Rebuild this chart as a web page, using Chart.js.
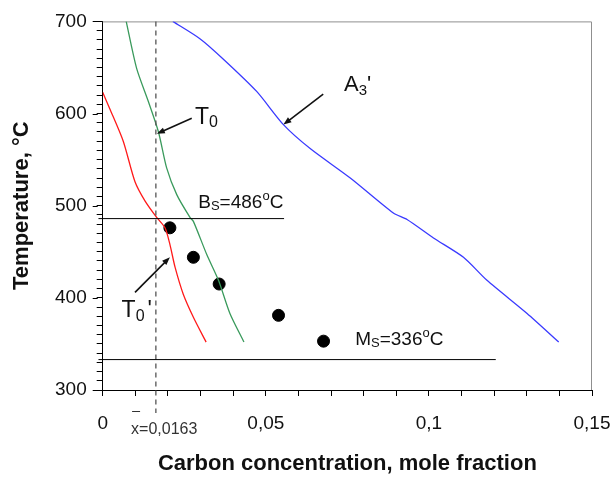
<!DOCTYPE html>
<html>
<head>
<meta charset="utf-8">
<script src="https://cdn.jsdelivr.net/npm/chart.js@4/dist/chart.umd.min.js"></script>
<style>
  html, body { margin: 0; padding: 0; background: #fff; }
</style>
</head>
<body>
<canvas id="c" width="615" height="477"></canvas>
<script>
// T0 curve (green)
const t0X = [0.0072, 0.0104, 0.0140, 0.0171, 0.0196, 0.0227, 0.0268, 0.0278, 0.0319, 0.0355, 0.0390, 0.0433];
const t0T = [700, 649, 613, 580, 541, 512, 487, 483, 447, 419, 383, 352];

// T0' curve (red)
const t0pX = [0, 0.0022, 0.0063, 0.0099, 0.0130, 0.0166, 0.0191, 0.0206, 0.0222, 0.0247, 0.0278, 0.0317];
const t0pT = [623, 605, 570, 526, 505, 487, 476, 458, 433, 404, 379, 352];

// A3' curve (blue)
const a3X = [0.0215, 0.0299, 0.0370, 0.0472, 0.0554, 0.0636, 0.0759, 0.0891, 0.0933, 0.1014, 0.1106, 0.1178, 0.1301, 0.1398];
const a3T = [700, 681, 659, 624, 588, 562, 530, 492, 485, 465, 444, 419, 383, 352];

// measured points
const expX = [0.0206, 0.0278, 0.0357, 0.0539, 0.0677];
const expT = [476, 444, 415, 381, 353];

// Bs / Ms lines and x = 0.0163 marker
const bsT = 486;
const bsLineX = [-0.0013, 0.0556];
const msT = 333;
const msLineX = [-0.0013, 0.1205];
const xMark = 0.0163;
const xMarkT = [700, 275];

// axes
const xMajor = [0, 0.05, 0.1, 0.15];
const xMajorLabels = ['0', '0,05', '0,1', '0,15'];
const yMajor = [300, 400, 500, 600, 700];
const yMajorLabels = ['300', '400', '500', '600', '700'];

const pts = (xs, ys) => xs.map((x, i) => ({ x, y: ys[i] }));
const flat = (xs, y) => xs.map(x => ({ x, y }));

const xMinor = [];
for (let i = 0; i <= 15; i++) xMinor.push(i / 100);
const yMinor = [];
for (let v = 300; v <= 700; v += 10) yMinor.push(v);

function xLabel(v) {
  const i = xMajor.findIndex(m => Math.abs(m - v) < 1e-9);
  return i < 0 ? '' : xMajorLabels[i];
}
function yLabel(v) {
  const i = yMajor.indexOf(Math.round(v));
  return i < 0 ? '' : yMajorLabels[i];
}

const FONT = '"Liberation Sans", Arial, sans-serif';

// text with sub/superscripts
function drawRuns(ctx, x, y, runs) {
  ctx.save();
  ctx.fillStyle = '#111';
  ctx.textBaseline = 'alphabetic';
  ctx.textAlign = 'left';
  for (const r of runs) {
    ctx.font = (r.bold ? 'bold ' : '') + r.s + 'px ' + FONT;
    ctx.fillText(r.t, x, y + (r.dy || 0));
    x += ctx.measureText(r.t).width + (r.gap || 0);
  }
  ctx.restore();
}

function arrow(ctx, x1, y1, x2, y2) {
  const a = Math.atan2(y2 - y1, x2 - x1);
  ctx.save();
  ctx.strokeStyle = '#111';
  ctx.fillStyle = '#111';
  ctx.lineWidth = 1.6;
  ctx.beginPath();
  ctx.moveTo(x1, y1);
  ctx.lineTo(x2 - 5 * Math.cos(a), y2 - 5 * Math.sin(a));
  ctx.stroke();
  ctx.beginPath();
  ctx.moveTo(x2, y2);
  ctx.lineTo(x2 - 8 * Math.cos(a) + 3 * Math.sin(a), y2 - 8 * Math.sin(a) - 3 * Math.cos(a));
  ctx.lineTo(x2 - 8 * Math.cos(a) - 3 * Math.sin(a), y2 - 8 * Math.sin(a) + 3 * Math.cos(a));
  ctx.closePath();
  ctx.fill();
  ctx.restore();
}

const decor = {
  id: 'decor',
  beforeDatasetsDraw(chart) {
    const { ctx, chartArea: a } = chart;
    ctx.save();
    ctx.strokeStyle = '#8f8f8f';
    ctx.lineWidth = 1;
    ctx.beginPath();
    ctx.moveTo(a.left, a.top + 0.5);
    ctx.lineTo(a.right - 0.5, a.top + 0.5);
    ctx.lineTo(a.right - 0.5, a.bottom);
    ctx.stroke();
    // longer major ticks on y axis
    const y = chart.scales.y;
    ctx.strokeStyle = '#000';
    ctx.beginPath();
    yMajor.forEach(v => {
      const py = Math.round(y.getPixelForValue(v)) + 0.5;
      ctx.moveTo(a.left - 10, py);
      ctx.lineTo(a.left - 5, py);
    });
    ctx.stroke();
    ctx.restore();
  },
  afterDatasetsDraw(chart) {
    const { ctx } = chart;
    const X = v => chart.scales.x.getPixelForValue(v);
    const Y = v => chart.scales.y.getPixelForValue(v);

    arrow(ctx, X(0.0273), Y(595), X(0.0166), Y(578));
    arrow(ctx, X(0.0676), Y(621), X(0.0554), Y(588));
    arrow(ctx, X(0.0099), Y(406), X(0.0206), Y(444));

    drawRuns(ctx, X(0.0283), Y(589), [{ t: 'T', s: 23 }, { t: '0', s: 16, dy: 3 }]);
    drawRuns(ctx, X(0.0740), Y(625), [{ t: 'A', s: 22 }, { t: '3', s: 15, dy: 4 }, { t: "'", s: 22 }]);
    drawRuns(ctx, X(0.0058), Y(379), [{ t: 'T', s: 23 }, { t: '0', s: 16, dy: 4, gap: 3 }, { t: "'", s: 23 }]);
    drawRuns(ctx, X(0.0293), Y(497.6), [
      { t: 'B', s: 19 }, { t: 'S', s: 13, dy: 2 }, { t: '=486', s: 19 },
      { t: 'o', s: 13, dy: -8 }, { t: 'C', s: 19 }
    ]);
    drawRuns(ctx, X(0.0774), Y(348.5), [
      { t: 'M', s: 19 }, { t: 'S', s: 13, dy: 2 }, { t: '=336', s: 19 },
      { t: 'o', s: 13, dy: -8 }, { t: 'C', s: 19 }
    ]);

    // x-bar label under the axis
    ctx.save();
    ctx.fillStyle = '#333';
    ctx.font = '16px ' + FONT;
    const lx = X(0.0087), ly = 434;
    ctx.fillText('x=0,0163', lx, ly);
    ctx.strokeStyle = '#333';
    ctx.lineWidth = 1;
    ctx.beginPath();
    ctx.moveTo(lx + 1, 411.5);
    ctx.lineTo(lx + 9, 411.5);
    ctx.stroke();
    ctx.restore();
  }
};

new Chart(document.getElementById('c'), {
  type: 'scatter',
  data: {
    datasets: [
      { data: flat(bsLineX, bsT), showLine: true, borderColor: '#000', borderWidth: 1, pointRadius: 0, clip: false },
      { data: flat(msLineX, msT), showLine: true, borderColor: '#000', borderWidth: 1, pointRadius: 0, clip: false },
      { data: xMarkT.map(t => ({ x: xMark, y: t })), showLine: true, borderColor: '#555', borderWidth: 1.3,
        borderDash: [5, 4], pointRadius: 0, clip: false },
      { data: pts(t0pX, t0pT), showLine: true, borderColor: '#ff1a1a', borderWidth: 1.3, pointRadius: 0, tension: 0.25 },
      { data: pts(t0X, t0T), showLine: true, borderColor: '#3a9a5c', borderWidth: 1.3, pointRadius: 0, tension: 0.25 },
      { data: pts(a3X, a3T), showLine: true, borderColor: '#3a3aff', borderWidth: 1.3, pointRadius: 0, tension: 0.25 },
      { data: pts(expX, expT), showLine: false, pointRadius: 6, pointBackgroundColor: '#000', pointBorderColor: '#000' }
    ]
  },
  options: {
    responsive: false,
    animation: false,
    layout: { padding: { left: 0, top: 18.5, right: 23, bottom: 0 } },
    plugins: { legend: { display: false }, tooltip: { enabled: false } },
    scales: {
      x: {
        type: 'linear', min: 0, max: 0.15,
        afterBuildTicks: s => { s.ticks = xMinor.map(v => ({ value: v })); },
        afterFit: s => { s.height = 87; },
        ticks: { autoSkip: false, maxRotation: 0, padding: 3, color: '#111',
                 font: { family: FONT, size: 19, lineHeight: 2.6 }, callback: v => xLabel(v) },
        grid: { drawOnChartArea: false, tickLength: 6, color: '#000' },
        border: { color: '#000', width: 1 },
        title: { display: true, text: 'Carbon concentration, mole fraction', color: '#111',
                 font: { family: FONT, size: 22, weight: 'bold' }, padding: { top: 0, bottom: 0 } }
      },
      y: {
        type: 'linear', min: 300, max: 700,
        afterBuildTicks: s => { s.ticks = yMinor.map(v => ({ value: v })); },
        afterFit: s => { s.width = 102.7; },
        ticks: { autoSkip: false, padding: 10, color: '#111',
                 font: { family: FONT, size: 19 }, callback: v => yLabel(v) },
        grid: { drawOnChartArea: false, tickLength: 6, color: '#000' },
        border: { color: '#000', width: 1 },
        title: { display: true, text: 'Temperature, °C', color: '#111',
                 font: { family: FONT, size: 22, weight: 'bold' }, padding: { top: 9, bottom: 0 } }
      }
    }
  },
  plugins: [decor]
});
</script>
</body>
</html>
